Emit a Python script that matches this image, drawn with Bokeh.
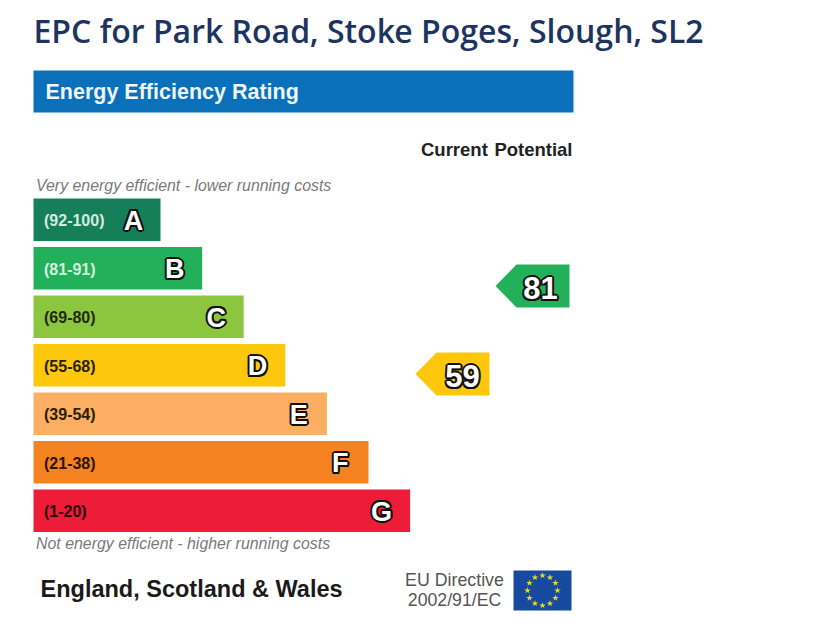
from math import cos, sin, pi
from bokeh.plotting import figure
from bokeh.models import Range1d, ColumnDataSource
from bokeh.core.properties import value
from bokeh.embed import file_html
from bokeh.resources import INLINE

title = "EPC for Park Road, Stoke Poges, Slough, SL2"
header = "Energy Efficiency Rating"
columns = ["Current", "Potential"]
top_note = "Very energy efficient - lower running costs"
bottom_note = "Not energy efficient - higher running costs"
region = "England, Scotland & Wales"
directive = ["EU Directive", "2002/91/EC"]
letters = ["A", "B", "C", "D", "E", "F", "G"]
bands = ["(92-100)", "(81-91)", "(69-80)", "(55-68)", "(39-54)", "(21-38)", "(1-20)"]
band_colors = ["#157f5a", "#23b05a", "#8cc63f", "#fdc70c", "#fcaf62", "#f58220", "#ed1c39"]
band_text = ["#d5ebe0", "#d5f0df", "#1f2a10", "#2a2000", "#2a2000", "#2a1500", "#2a0508"]
current_score = 59
potential_score = 81
current_color = "#fdc70c"
potential_color = "#23b05a"

SANS = value("Liberation Sans")
L, R = 33, 573
BAR0, STEP, BAR_H = 198, 48.5, 42.5
LEN0, LEN_STEP = 127, 41.6
LETTER0, LETTER_STEP = 133, 41.33
HALO = [(-1.5, -1.5), (1.5, -1.5), (-1.5, 1.5), (1.5, 1.5), (-2, 0), (2, 0), (0, -2), (0, 2)]

p = figure(width=798, height=614, x_range=Range1d(0, 798), y_range=Range1d(614, 0),
           output_backend="svg", toolbar_location=None, min_border=0, outline_line_color=None)
p.axis.visible = False
p.grid.visible = False
p.background_fill_color = "white"

def label(x, y, t, size, color="#222222", style="normal", align="left", font=SANS):
    p.text([x], [y], text=[t], text_font=font, text_font_size=size, text_color=color,
           text_font_style=style, text_align=align, text_baseline="middle")

label(33, 29.5, title, "32px", "#1d3461", "normal", font=value("Open Sans SemiBold"))
p.quad(left=[L], right=[R], top=[70], bottom=[112], fill_color="#0a70b9", line_color=None)
label(45, 91, header, "21.5px", "#eef6fb", "bold")
label(420.5, 149, columns[0], "18.5px", "#222222", "bold")
label(572, 149, columns[1], "18.5px", "#222222", "bold", "right")
label(35.5, 185, top_note, "15.9px", "#7a7a7a", "italic")
label(35.5, 543, bottom_note, "15.9px", "#7a7a7a", "italic")

tops = [BAR0 + i * STEP for i in range(len(letters))]
rights = [L + LEN0 + i * LEN_STEP for i in range(len(letters))]
src = ColumnDataSource(dict(l=[L] * 7, r=rights, t=tops, b=[t + BAR_H for t in tops],
                            c=band_colors, tc=band_text, band=bands, letter=letters,
                            ty=[t + BAR_H / 2 + 1 for t in tops],
                            lx=[LETTER0 + i * LETTER_STEP for i in range(len(letters))]))
p.quad(left="l", right="r", top="t", bottom="b", fill_color="c", line_color=None, source=src)
p.text(x=43.5, y="ty", text="band", text_color="tc", text_font=SANS, text_font_size="16px",
       text_font_style="bold", text_baseline="middle", source=src)
for dx, dy in HALO:
    p.text(x="lx", y="ty", text="letter", text_color="#111111", x_offset=dx, y_offset=dy, text_font=SANS,
           text_font_size="27px", text_font_style="bold", text_align="center", text_baseline="middle", source=src)
p.text(x="lx", y="ty", text="letter", text_color="white", text_font=SANS,
       text_font_size="27px", text_font_style="bold", text_align="center", text_baseline="middle", source=src)

def arrow(score, right, color, text_inset):
    cy = 285.5 + (81 - score) * 4
    h = 21.5
    p.patch([right - 74, right - 53, right, right, right - 53],
            [cy, cy - h, cy - h, cy + h, cy + h], fill_color=color, line_color=None)
    for dx, dy in HALO:
        p.text([right - text_inset], [cy + 2], text=[str(score)], text_color="#111111", x_offset=dx, y_offset=dy,
               text_font=SANS, text_font_size="31px", text_font_style="bold",
               text_align="center", text_baseline="middle")
    p.text([right - text_inset], [cy + 2], text=[str(score)], text_color="white",
           text_font=SANS, text_font_size="31px", text_font_style="bold",
           text_align="center", text_baseline="middle")

arrow(potential_score, 569, potential_color, 29)
arrow(current_score, 489, current_color, 27)

label(40, 588, region, "23.5px", "#1a1a1a", "bold")
label(454, 579, directive[0], "17.8px", "#555555", "normal", "center")
label(454, 599, directive[1], "17.7px", "#555555", "normal", "center")
p.quad(left=[513], right=[571], top=[570], bottom=[610], fill_color="#174a9f", line_color=None)
p.scatter([542 + 15 * cos(2 * pi * k / 12) for k in range(12)],
          [590 + 15 * sin(2 * pi * k / 12) for k in range(12)],
          marker="star", size=7, fill_color="#e8d820", line_color=None)

open("out.html", "w").write(file_html(p, INLINE))
